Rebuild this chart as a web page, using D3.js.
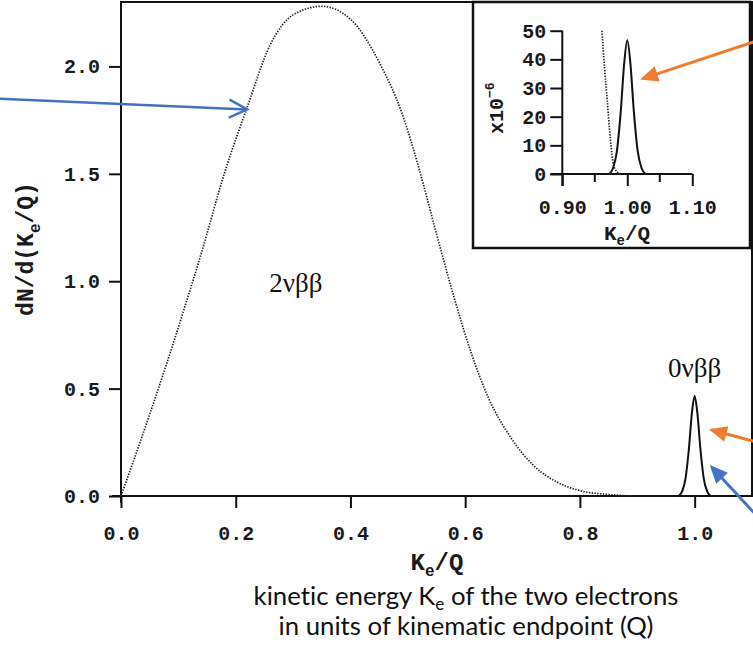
<!DOCTYPE html>
<html>
<head>
<meta charset="utf-8">
<script src="https://cdn.jsdelivr.net/npm/d3@7"></script>
<style>
  body { margin: 0; background: #fff; }
  svg { display: block; }
  .mono { font-family: "Liberation Mono", "DejaVu Sans Mono", monospace; font-weight: bold; fill: #1a1a1a; }
  .caption { font-variant-ligatures: none; }
</style>
</head>
<body>
<svg id="chart"></svg>
<script>
// 2vbb spectrum (dotted)
const kinetic2v = [0, 0.02, 0.05, 0.08, 0.11, 0.14, 0.18, 0.22, 0.26, 0.30, 0.35, 0.40, 0.45, 0.49, 0.52, 0.55, 0.58, 0.61, 0.64, 0.68, 0.72, 0.76, 0.80, 0.85, 0.90, 0.95];
const dN2v = [0, 0.15, 0.38, 0.62, 0.87, 1.13, 1.50, 1.81, 2.10, 2.24, 2.28, 2.22, 2.02, 1.78, 1.52, 1.22, 0.93, 0.67, 0.46, 0.27, 0.14, 0.065, 0.025, 0.007, 0, 0];

// 0vbb peak (solid)
const kinetic0v = [0.972, 0.978, 0.984, 0.99, 0.995, 1.0, 1.005, 1.01, 1.016, 1.022, 1.028];
const dN0v = [0, 0.02, 0.08, 0.22, 0.38, 0.466, 0.38, 0.22, 0.08, 0.02, 0];

// inset (x10^-6)
const insetK2v = [0.961, 0.965, 0.969, 0.974, 0.979, 0.984, 0.99];
const insetN2v = [50, 37, 26, 12, 3, 0.8, 0];
const insetK0v = [0.972, 0.978, 0.984, 0.99, 0.995, 1.0, 1.005, 1.01, 1.016, 1.022, 1.028];
const insetN0v = [0, 2, 8, 22, 38, 46.7, 38, 22, 8, 2, 0];

const mainXTicks = [0, 0.2, 0.4, 0.6, 0.8, 1.0];
const mainYTicks = [0, 0.5, 1.0, 1.5, 2.0];
const insetXTicks = [0.9, 1.0, 1.1];
const insetXMinor = [0.95, 1.05];
const insetYTicks = [0, 10, 20, 30, 40, 50];

const labels2v = "2νββ";
const labels0v = "0νββ";
const captionLines = ["kinetic energy K|e| of the two electrons", "in units of kinematic endpoint (Q)"];

// arrows in data space
const arrowsMain = [
  { from: [-0.211, 1.85], to: [0.22, 1.80], color: "#4472C4", head: "open" },
  { from: [1.105, 0.253], to: [1.03, 0.307], color: "#ED7D31", head: "fill" },
  { from: [1.105, -0.082], to: [1.03, 0.134], color: "#4472C4", head: "fill" },
];
const arrowsInset = [
  { from: [1.196, 46.2], to: [1.024, 33.3], color: "#ED7D31", head: "fill" },
];

const W = 753, H = 649;
const svg = d3.select("#chart").attr("width", W).attr("height", H);

const x = d3.scaleLinear().domain([0, 1.1]).range([121, 752]);
const y = d3.scaleLinear().domain([0, 2.3]).range([496, 2]);

const xi = d3.scaleLinear().domain([0.9, 1.1]).range([562.3, 692.3]);
const yi = d3.scaleLinear().domain([0, 50]).range([174, 30.7]);

// markers
const defs = svg.append("defs");
function addMarker(id, color, open) {
  const m = defs.append("marker")
    .attr("id", id)
    .attr("markerUnits", "userSpaceOnUse")
    .attr("orient", "auto")
    .attr("overflow", "visible");
  if (open) {
    m.attr("viewBox", "0 0 20 20").attr("refX", 19).attr("refY", 10)
      .attr("markerWidth", 20).attr("markerHeight", 20);
    m.append("path").attr("d", "M1,1 L19,10 L1,19")
      .attr("fill", "none").attr("stroke", color).attr("stroke-width", 2.5);
  } else {
    m.attr("viewBox", "0 0 18 16").attr("refX", 15).attr("refY", 8)
      .attr("markerWidth", 18).attr("markerHeight", 16);
    m.append("path").attr("d", "M0,0 L18,8 L0,16 Z").attr("fill", color);
  }
}
addMarker("open-blue", "#4472C4", true);
addMarker("fill-blue", "#4472C4", false);
addMarker("fill-orange", "#ED7D31", false);

// main frame
svg.append("rect")
  .attr("x", x(0)).attr("y", y(2.3))
  .attr("width", x(1.1) - x(0)).attr("height", y(0) - y(2.3))
  .attr("fill", "none").attr("stroke", "#111").attr("stroke-width", 2);

// axes
const xAxis = d3.axisBottom(x).tickValues(mainXTicks).tickSize(12).tickPadding(18)
  .tickSizeOuter(0).tickFormat(d3.format(".1f"));
const gx = svg.append("g").attr("transform", `translate(0,${y(0)})`).call(xAxis);
gx.select(".domain").remove();
gx.selectAll("line").attr("stroke", "#111").attr("stroke-width", 2);
gx.selectAll("text").attr("class", "mono").style("font-size", "20px");
gx.append("line").attr("x1", x(0) - 9).attr("x2", x(1.1)).attr("y1", 0).attr("y2", 0)
  .attr("stroke", "#111").attr("stroke-width", 2);

const yAxis = d3.axisLeft(y).tickValues(mainYTicks).tickSize(12).tickPadding(9)
  .tickSizeOuter(0).tickFormat(d3.format(".1f"));
const gy = svg.append("g").attr("transform", `translate(${x(0)},0)`).call(yAxis);
gy.select(".domain").remove();
gy.selectAll("line").attr("stroke", "#111").attr("stroke-width", 2);
gy.selectAll("text").attr("class", "mono").style("font-size", "20px");
gy.append("line").attr("x1", 0).attr("x2", 0).attr("y1", y(2.3)).attr("y2", y(0) + 7)
  .attr("stroke", "#111").attr("stroke-width", 2);

// axis titles
const xt = svg.append("text").attr("class", "mono")
  .attr("x", 437).attr("y", 570).attr("text-anchor", "middle").style("font-size", "24px");
xt.append("tspan").text("K");
xt.append("tspan").attr("dy", 6).style("font-size", "16px").text("e");
xt.append("tspan").attr("dy", -6).text("/Q");

const yt = svg.append("text").attr("class", "mono")
  .attr("transform", "translate(33,249) rotate(-90)")
  .attr("text-anchor", "middle").style("font-size", "23px");
yt.append("tspan").text("dN/d(K");
yt.append("tspan").attr("dy", 7).style("font-size", "16px").text("e");
yt.append("tspan").attr("dy", -7).text("/Q)");

// curves
const pts2v = kinetic2v.map((k, i) => [k, dN2v[i]]);
const pts0v = kinetic0v.map((k, i) => [k, dN0v[i]]);
const line = d3.line().x(d => x(d[0])).y(d => y(d[1])).curve(d3.curveMonotoneX);

svg.append("path").attr("d", line(pts2v))
  .attr("fill", "none").attr("stroke", "#222").attr("stroke-width", 1.7)
  .attr("stroke-dasharray", "1.4,1.4");
svg.append("path").attr("d", line(pts0v))
  .attr("fill", "none").attr("stroke", "#111").attr("stroke-width", 2);

// curve labels
svg.append("text").attr("x", x(0.305)).attr("y", 292).attr("text-anchor", "middle")
  .style("font-family", "Liberation Serif, serif").style("font-size", "27px")
  .attr("fill", "#111").text(labels2v);
svg.append("text").attr("x", x(1.0)).attr("y", 377).attr("text-anchor", "middle")
  .style("font-family", "Liberation Serif, serif").style("font-size", "27px")
  .attr("fill", "#111").text(labels0v);

// caption, sized so the first line spans ~425px like the reference
const capSize = 25.5;
const capTexts = captionLines.map((s, i) => {
  const t = svg.append("text").attr("class", "caption").attr("x", 466).attr("y", 605 + i * 30)
    .attr("text-anchor", "middle")
    .style("font-family", "Lato, 'Open Sans', sans-serif").style("font-size", capSize + "px")
    .attr("fill", "#111");
  s.split("|").forEach((part, j) => {
    if (j === 1) {
      t.append("tspan").attr("class", "sub").attr("dy", 5).text(part);
    } else if (j === 2) {
      t.append("tspan").attr("dy", -5).text(part);
    } else {
      t.append("tspan").text(part);
    }
  });
  return t;
});
capTexts[0].selectAll(".sub").style("font-size", (capSize * 0.66) + "px");
const w0 = capTexts[0].node().getComputedTextLength();
if (w0 > 0) {
  const k = 425 / w0;
  capTexts.forEach(t => t.style("font-size", (capSize * k) + "px"));
  capTexts[0].selectAll(".sub").style("font-size", (capSize * k * 0.66) + "px");
}

// inset
const inset = svg.append("g");
inset.append("rect").attr("x", 473).attr("y", 2).attr("width", 277).attr("height", 246)
  .attr("fill", "#fff").attr("stroke", "#111").attr("stroke-width", 2.5);

const xiAxis = d3.axisBottom(xi).tickValues(insetXTicks).tickSize(12).tickPadding(14)
  .tickSizeOuter(0).tickFormat(d3.format(".2f"));
const gxi = inset.append("g").attr("transform", `translate(0,${yi(0)})`).call(xiAxis);
gxi.select(".domain").remove();
gxi.selectAll("line").attr("stroke", "#111").attr("stroke-width", 2);
gxi.selectAll("text").attr("class", "mono").style("font-size", "20px");
gxi.selectAll(".minor").data(insetXMinor).join("line")
  .attr("x1", d => xi(d)).attr("x2", d => xi(d)).attr("y1", 0).attr("y2", 8)
  .attr("stroke", "#111").attr("stroke-width", 2);
gxi.append("line").attr("x1", xi(0.9) - 12).attr("x2", xi(1.1)).attr("y1", 0).attr("y2", 0)
  .attr("stroke", "#111").attr("stroke-width", 2);

const yiAxis = d3.axisLeft(yi).tickValues(insetYTicks).tickSize(12).tickPadding(4)
  .tickSizeOuter(0);
const gyi = inset.append("g").attr("transform", `translate(${xi(0.9)},0)`).call(yiAxis);
gyi.select(".domain").remove();
gyi.selectAll("line").attr("stroke", "#111").attr("stroke-width", 2);
gyi.selectAll("text").attr("class", "mono").style("font-size", "20px");
gyi.append("line").attr("x1", 0).attr("x2", 0).attr("y1", yi(50)).attr("y2", yi(0) + 12)
  .attr("stroke", "#111").attr("stroke-width", 2);

const xit = inset.append("text").attr("class", "mono")
  .attr("x", 627).attr("y", 240).attr("text-anchor", "middle").style("font-size", "21px");
xit.append("tspan").text("K");
xit.append("tspan").attr("dy", 5).style("font-size", "14px").text("e");
xit.append("tspan").attr("dy", -5).text("/Q");

const yit = inset.append("text").attr("class", "mono")
  .attr("transform", "translate(503,134) rotate(-90)")
  .attr("text-anchor", "start").style("font-size", "20px");
yit.append("tspan").text("x10");
yit.append("tspan").attr("dy", -9).style("font-size", "13px").text("−6");

const linei = d3.line().x(d => xi(d[0])).y(d => yi(d[1])).curve(d3.curveMonotoneX);
inset.append("path").attr("d", linei(insetK2v.map((k, i) => [k, insetN2v[i]])))
  .attr("fill", "none").attr("stroke", "#222").attr("stroke-width", 1.7)
  .attr("stroke-dasharray", "1.4,1.4");
inset.append("path").attr("d", linei(insetK0v.map((k, i) => [k, insetN0v[i]])))
  .attr("fill", "none").attr("stroke", "#111").attr("stroke-width", 2);

// arrows
function drawArrows(list, sx, sy) {
  list.forEach(a => {
    const id = a.head === "open" ? "open-blue" : (a.color === "#4472C4" ? "fill-blue" : "fill-orange");
    svg.append("line")
      .attr("x1", sx(a.from[0])).attr("y1", sy(a.from[1]))
      .attr("x2", sx(a.to[0])).attr("y2", sy(a.to[1]))
      .attr("stroke", a.color).attr("stroke-width", a.head === "open" ? 2.5 : 3)
      .attr("marker-end", `url(#${id})`);
  });
}
drawArrows(arrowsMain, x, y);
drawArrows(arrowsInset, xi, yi);
</script>
</body>
</html>
